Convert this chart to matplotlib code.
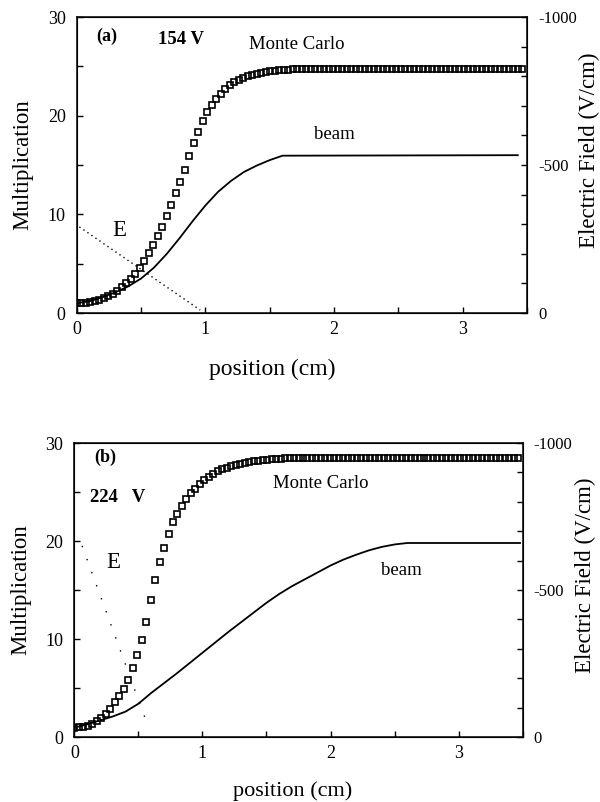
import matplotlib.pyplot as plt
from matplotlib.ticker import MultipleLocator

plt.rcParams['font.family'] = 'Liberation Serif'
plt.rcParams['axes.unicode_minus'] = False

# Monte Carlo sample positions (cm), shared by both panels
mc_x = [0.0, 0.035, 0.07, 0.105, 0.14, 0.175, 0.21, 0.245, 0.28, 0.315,
        0.35, 0.385, 0.42, 0.455, 0.49, 0.525, 0.56, 0.595, 0.63, 0.665,
        0.70, 0.735, 0.77, 0.805, 0.84, 0.875, 0.91, 0.945, 0.98, 1.015,
        1.05, 1.085, 1.12, 1.155, 1.19, 1.225, 1.26, 1.295, 1.33, 1.365,
        1.40, 1.435, 1.47, 1.505, 1.54, 1.575, 1.61, 1.645, 1.68, 1.715,
        1.75, 1.785, 1.82, 1.855, 1.89, 1.925, 1.96, 1.995, 2.03, 2.065,
        2.10, 2.135, 2.17, 2.205, 2.24, 2.275, 2.31, 2.345, 2.38, 2.415,
        2.45, 2.485, 2.52, 2.555, 2.59, 2.625, 2.66, 2.695, 2.73, 2.765,
        2.80, 2.835, 2.87, 2.905, 2.94, 2.975, 3.01, 3.045, 3.08, 3.115,
        3.15, 3.185, 3.22, 3.255, 3.29, 3.325, 3.36, 3.395, 3.43, 3.465]

# (a) 154 V
mc_a = [1.0, 1.0, 1.05, 1.1, 1.2, 1.35, 1.5, 1.7, 1.95, 2.25,
        2.6, 3.0, 3.45, 4.0, 4.6, 5.3, 6.1, 6.9, 7.8, 8.7,
        9.8, 11.0, 12.2, 13.3, 14.5, 15.9, 17.2, 18.4, 19.5, 20.4,
        21.1, 21.7, 22.2, 22.7, 23.1, 23.4, 23.6, 23.8, 24.0, 24.1,
        24.25, 24.35, 24.45, 24.5, 24.55, 24.6, 24.65, 24.65, 24.7, 24.7,
        24.7, 24.7, 24.7, 24.7, 24.7, 24.7, 24.7, 24.7, 24.7, 24.7,
        24.7, 24.7, 24.7, 24.7, 24.7, 24.7, 24.7, 24.7, 24.7, 24.7,
        24.75, 24.75, 24.75, 24.75, 24.75, 24.75, 24.75, 24.75, 24.75, 24.75,
        24.75, 24.75, 24.75, 24.75, 24.75, 24.75, 24.75, 24.75, 24.75, 24.75,
        24.75, 24.75, 24.75, 24.75, 24.75, 24.75, 24.75, 24.75, 24.75, 24.75]
beam_a_x = [0.0, 0.1, 0.2, 0.3, 0.4, 0.5, 0.6, 0.7, 0.8, 0.9,
            1.0, 1.1, 1.2, 1.3, 1.4, 1.5, 1.6, 3.43]
beam_a = [1.0, 1.2, 1.6, 2.1, 2.7, 3.5, 4.6, 6.0, 7.6, 9.3,
          10.9, 12.3, 13.4, 14.3, 14.95, 15.5, 15.95, 16.0]
field_a_x = [0.02, 0.96]
field_a = [-291, -10]

# (b) 224 V
mc_b = [0.95, 1.0, 1.05, 1.15, 1.35, 1.6, 1.9, 2.35, 2.9, 3.55,
        4.2, 4.95, 5.8, 7.0, 8.4, 9.9, 11.7, 14.0, 16.0, 17.9,
        19.3, 20.7, 21.9, 22.8, 23.6, 24.3, 24.9, 25.35, 25.8, 26.2,
        26.55, 26.85, 27.1, 27.3, 27.5, 27.65, 27.8, 27.9, 28.0, 28.1,
        28.15, 28.2, 28.25, 28.3, 28.35, 28.4, 28.4, 28.45, 28.45, 28.5,
        28.5, 28.5, 28.5, 28.5, 28.5, 28.5, 28.5, 28.5, 28.5, 28.5,
        28.5, 28.5, 28.5, 28.5, 28.5, 28.5, 28.5, 28.5, 28.5, 28.5,
        28.5, 28.5, 28.5, 28.5, 28.5, 28.5, 28.5, 28.5, 28.5, 28.5,
        28.5, 28.5, 28.5, 28.5, 28.5, 28.5, 28.5, 28.5, 28.5, 28.5,
        28.5, 28.5, 28.5, 28.5, 28.5, 28.5, 28.5, 28.5, 28.5, 28.5]
beam_b_x = [0.0, 0.1, 0.2, 0.3, 0.4, 0.5, 0.6, 0.8, 1.0, 1.2,
            1.4, 1.5, 1.6, 1.7, 1.8, 1.9, 2.0, 2.1, 2.2, 2.3,
            2.4, 2.5, 2.6, 3.48]
beam_b = [0.95, 1.3, 1.7, 2.1, 2.6, 3.4, 4.5, 6.5, 8.6, 10.7,
          12.7, 13.7, 14.6, 15.4, 16.1, 16.8, 17.5, 18.1, 18.6, 19.05,
          19.4, 19.65, 19.8, 19.8]
field_b_x = [0.06, 0.57]
field_b = [-650, -43]


def panel(rect, mc, bx, by, fx, fy, dots):
    ax = fig.add_axes(rect)
    ax.plot(bx, by, color='black', lw=1.3)
    ax.plot(mc_x, mc, ls='none', marker='s', ms=4.3, mfc='none',
            mec='black', mew=1.2)
    ax.set_xlim(0, 3.5)
    ax.set_ylim(0, 30)
    ax.xaxis.set_major_locator(MultipleLocator(1))
    ax.xaxis.set_minor_locator(MultipleLocator(0.5))
    ax.yaxis.set_major_locator(MultipleLocator(10))
    ax.yaxis.set_minor_locator(MultipleLocator(5))
    ax.tick_params(which='both', direction='in', length=4, width=1,
                   top=False, right=False, labelsize=13)
    ax.tick_params(axis='y', pad=8)
    ax.tick_params(axis='x', pad=6)
    for s in ax.spines.values():
        s.set_linewidth(1.1)

    ax2 = ax.twinx()
    ax2.plot(fx, fy, color='black', lw=1.0, ls=dots)
    ax2.set_ylim(0, -1000)
    ax2.yaxis.set_major_locator(MultipleLocator(500))
    ax2.yaxis.set_minor_locator(MultipleLocator(100))
    ax2.tick_params(which='both', direction='in', length=4, width=1,
                    labelsize=12, pad=8)
    ax2.text(1.14, 0.55, 'Electric Field (V/cm)', transform=ax.transAxes,
             rotation=90, ha='center', va='center', fontsize=16.5)
    ax.text(-0.12, 0.5, 'Multiplication', transform=ax.transAxes,
            rotation=90, ha='center', va='center', fontsize=16.5)
    return ax, ax2


fig = plt.figure(figsize=(6, 8.02), dpi=100)

# panel (a)
ax, ax2 = panel([0.128, 0.6097, 0.75, 0.369], mc_a, beam_a_x, beam_a,
                field_a_x, field_a, (0, (1, 2.5)))
ax.text(0.23, 28.0, '(a)', ha='center', va='center', fontsize=13,
        fontweight='bold')
ax.text(0.81, 27.7, '154 V', ha='center', va='center', fontsize=13.5,
        fontweight='bold')
ax.text(1.71, 27.2, 'Monte Carlo', ha='center', va='center', fontsize=13.5)
ax.text(2.0, 18.1, 'beam', ha='center', va='center', fontsize=13.5)
ax.text(0.33, 8.4, 'E', ha='center', va='center', fontsize=16.5)
ax.text(0.434, -0.156, 'position (cm)', transform=ax.transAxes,
        ha='center', va='top', fontsize=17)

# panel (b)
ax, ax2 = panel([0.124, 0.081, 0.747, 0.3666], mc_b, beam_b_x, beam_b,
                field_b_x, field_b, (0, (1, 9)))
ax.text(0.24, 28.5, '(b)', ha='center', va='center', fontsize=13,
        fontweight='bold')
ax.text(0.12, 24.4, '224   V', ha='left', va='center', fontsize=13.5,
        fontweight='bold')
ax.text(1.92, 25.9, 'Monte Carlo', ha='center', va='center', fontsize=13.5)
ax.text(2.55, 17.0, 'beam', ha='center', va='center', fontsize=13.5)
ax.text(0.30, 17.8, 'E', ha='center', va='center', fontsize=16.5)
ax.text(0.486, -0.150, 'position (cm)', transform=ax.transAxes,
        ha='center', va='top', fontsize=16)

fig.savefig('out.png', dpi=100, facecolor='white')
